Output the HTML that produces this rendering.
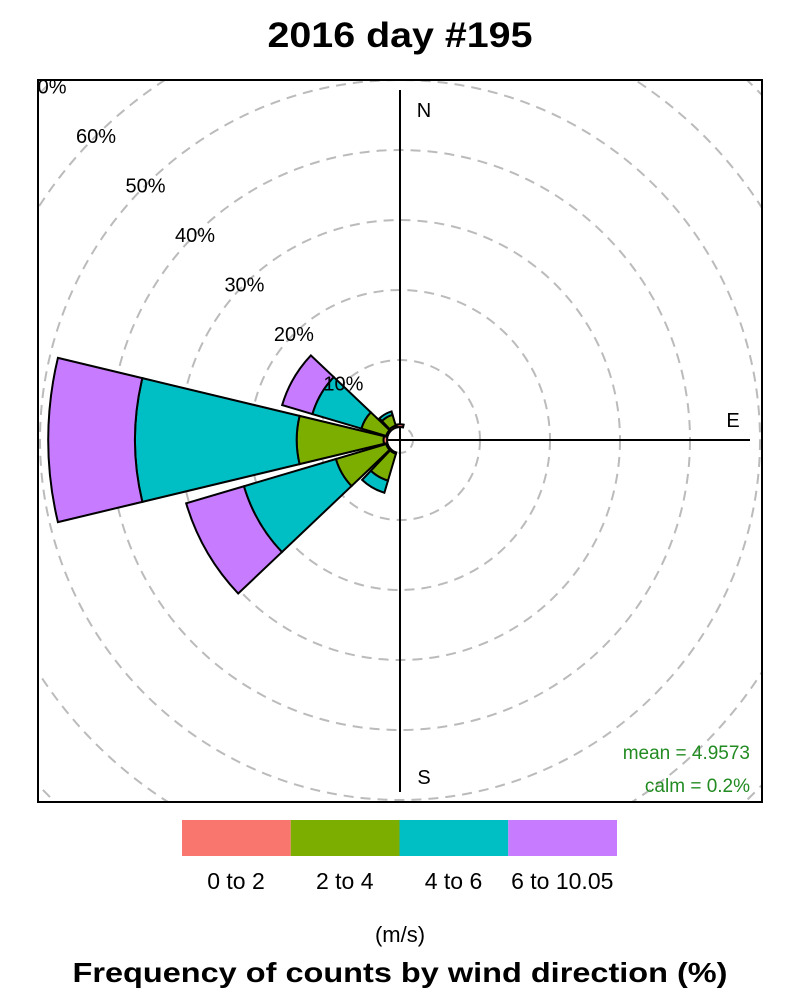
<!DOCTYPE html>
<html><head><meta charset="utf-8"><style>
body{margin:0;background:#fff;}
svg{display:block;font-family:"Liberation Sans",Arial,sans-serif;}
</style></head><body>
<svg id="chart" width="800" height="1000" viewBox="0 0 800 1000">
<text x="400" y="47" text-anchor="middle" font-size="35" font-weight="bold" textLength="265" lengthAdjust="spacingAndGlyphs">2016 day #195</text>
<defs><clipPath id="pc"><rect x="38" y="80" width="724" height="722"/></clipPath></defs>
<g id="plot" clip-path="url(#pc)"></g>
<rect x="38" y="80" width="724" height="722" fill="none" stroke="#000" stroke-width="2"/>
<text x="750" y="759" text-anchor="end" font-size="19" fill="#228B22">mean = 4.9573</text>
<text x="750" y="792" text-anchor="end" font-size="19" fill="#228B22">calm = 0.2%</text>
<g id="legend"></g>
<text x="400" y="942" text-anchor="middle" font-size="22">(m/s)</text>
<text x="400" y="982" text-anchor="middle" font-size="28" font-weight="bold" textLength="655" lengthAdjust="spacingAndGlyphs">Frequency of counts by wind direction (%)</text>
</svg>
<script>
const directions = [210, 240, 270, 300, 330, 360];
const speedBins = ["0 to 2", "2 to 4", "4 to 6", "6 to 10.05"];
const bin1 = [0.2, 0.2, 0.5, 0.2, 0.3, 0.4];
const bin2 = [4.0, 7.5, 12.4, 3.7, 1.6, 0.0];
const bin3 = [1.8, 13.7, 23.1, 7.3, 0.5, 0.0];
const bin4 = [0.0, 8.6, 12.4, 4.5, 0.0, 0.0];
const ringValues = [10, 20, 30, 40, 50, 60, 70];
const ringLabels = ["10%", "20%", "30%", "40%", "50%", "60%", "70%"];
const colors = ["#F8766D", "#7CAE00", "#00BFC4", "#C77CFF"];

const NS = "http://www.w3.org/2000/svg";
const cx = 400, cy = 440, off = 10, scale = 7, halfW = 13.5;
const rOf = p => off + p * scale;
function pt(r, deg){ const a = deg * Math.PI / 180; return [cx + r * Math.sin(a), cy - r * Math.cos(a)]; }
function mk(tag, attrs, parent){ const e = document.createElementNS(NS, tag); for (const k in attrs) e.setAttribute(k, attrs[k]); parent.appendChild(e); return e; }
const plot = document.getElementById("plot");

ringValues.forEach((v, i) => {
  const c = mk("circle", {cx, cy, r: rOf(v), fill: "none", stroke: "#bbb", "stroke-width": 2, "stroke-dasharray": "10,7"}, plot);
  
  
});
const calm = mk("circle", {cx, cy, r: 13, fill: "none", stroke: "#bbb", "stroke-width": 2, "stroke-dasharray": "8,6"}, plot);



const ax1 = mk("line", {x1: 400, y1: 90, x2: 400, y2: 792, stroke: "#000", "stroke-width": 2}, plot);


const ax2 = mk("line", {x1: 50, y1: 440, x2: 750, y2: 440, stroke: "#000", "stroke-width": 2}, plot);



const bins = [bin1, bin2, bin3, bin4];
directions.forEach((d, i) => {
  let cum = 0;
  bins.forEach((b, j) => {
    const v = b[i];
    if (v <= 0) return;
    const r0 = rOf(cum) + 3, r1 = rOf(cum + v) + 3;
    cum += v;
    const a0 = d - halfW, a1 = d + halfW;
    const p1 = pt(r0, a0), p2 = pt(r1, a0), p3 = pt(r1, a1), p4 = pt(r0, a1);
    const dstr = `M${p1} L${p2} A${r1},${r1} 0 0 1 ${p3} L${p4} A${r0},${r0} 0 0 0 ${p1} Z`;
    const w = mk("path", {d: dstr, fill: colors[j], stroke: "#000", "stroke-width": 2}, plot);
    
    
  });
});

ringValues.forEach((v, i) => {
  const r = rOf(v);
  const t = mk("text", {x: cx - r * 0.707, y: cy - r * 0.707 + 7, "text-anchor": "middle", "font-size": 20}, plot);
  t.textContent = ringLabels[i];
  
  
});
[["N", 424, 117], ["E", 733, 427], ["S", 424, 784]].forEach(c => {
  const t = mk("text", {x: c[1], y: c[2], "text-anchor": "middle", "font-size": 20}, plot);
  t.textContent = c[0];
  
  
});

const lg = document.getElementById("legend");
speedBins.forEach((s, j) => {
  const x = 182 + j * 108.75;
  const r = mk("rect", {x, y: 820, width: 108.75, height: 36, fill: colors[j]}, lg);
  
  
  const t = mk("text", {x: x + 54, y: 889, "text-anchor": "middle", "font-size": 23}, lg);
  t.textContent = s;
  
  
});
</script>
</body></html>
